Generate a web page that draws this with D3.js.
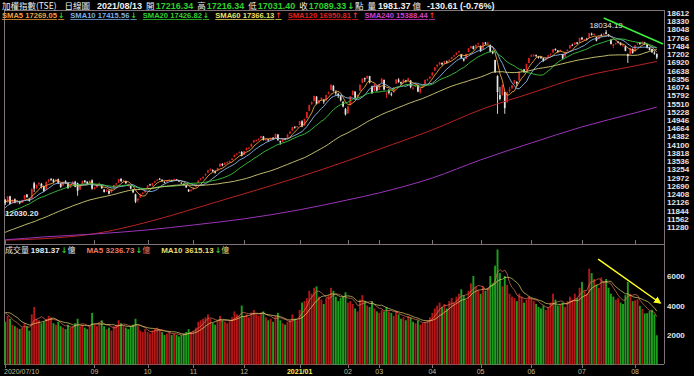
<!DOCTYPE html>
<html>
<head>
<meta charset="utf-8">
<script src="https://cdn.jsdelivr.net/npm/d3@7"></script>
<style>
  body { margin: 0; background: #000; }
  svg { display: block; font-family: "Liberation Sans", Arial, sans-serif; }
</style>
</head>
<body>
<div id="chart"></div>
<script>
// 加權指數 daily candles, 2020/07/10 - 2021/08/13, [open, high, low, close]
const ohlc = [
  // 2020/07
  [12210,12240,12030.2,12100],[12130,12340,12110,12322],[12330,12350,12060,12074],[12120,12230,12090,12202],[12230,12260,12090,12112],[12140,12200,12080,12176],[12150,12180,12060,12094],[12110,12220,12100,12198],[12230,12380,12220,12367],[12390,12410,12280,12304],[12250,12280,12150,12170],[12250,12600,12240,12586],[12780,12830,12480,12600],[12620,12740,12580,12720],[12750,12820,12690,12780],[12760,12790,12600,12664],
  // 2020/08
  [12680,12700,12480,12513],[12560,12840,12550,12828],[12850,12920,12800,12894],[12920,12960,12860,12910],[12900,12930,12780,12828],[12850,12930,12820,12900],[12920,12940,12760,12780],[12760,12790,12620,12650],[12700,12840,12690,12830],[12850,12880,12760,12795],[12780,12800,12590,12610],[12640,12740,12620,12720],[12760,12850,12740,12830],[12830,12860,12640,12660],[12780,12800,12350,12520],[12560,12720,12550,12700],[12730,12870,12720,12850],[12870,12890,12790,12820],[12830,12850,12740,12760],[12790,12880,12780,12860],[12880,12910,12560,12591],
  // 2020/09
  [12600,12650,12560,12607],[12640,12740,12630,12728],[12760,12800,12700,12790],[12700,12710,12590,12608],[12560,12580,12460,12480],[12500,12570,12480,12550],[12520,12540,12400,12420],[12460,12600,12450,12590],[12620,12730,12610,12720],[12740,12790,12700,12767],[12800,12930,12790,12920],[12930,12950,12830,12850],[12860,12900,12820,12875],[12850,12870,12760,12780],[12700,12760,12660,12720],[12680,12700,12580,12600],[12560,12580,12440,12470],[12400,12420,12100,12150],[12200,12280,12120,12240],[12290,12420,12280,12400],[12430,12480,12400,12450],[12470,12530,12450,12515],
  // 2020/10
  [12600,12720,12590,12705],[12740,12760,12690,12720],[12700,12790,12680,12776],[12800,12860,12780,12850],[12880,12920,12860,12900],[12930,12960,12890,12920],[12900,12910,12830,12850],[12820,12850,12780,12810],[12830,12880,12820,12870],[12880,12920,12860,12900],[12890,12900,12840,12860],[12880,12940,12870,12920],[12910,12920,12860,12880],[12870,12880,12820,12840],[12800,12810,12760,12780],[12760,12770,12700,12720],[12700,12720,12620,12640],[12560,12580,12480,12500],[12520,12580,12490,12546],
  // 2020/11
  [12560,12640,12540,12620],[12660,12730,12650,12720],[12800,12880,12790,12870],[12900,12960,12880,12940],[12960,13010,12930,13000],[13060,13110,13020,13100],[13150,13240,13120,13220],[13230,13290,13200,13260],[13240,13250,13170,13190],[13200,13220,13110,13140],[13210,13310,13200,13300],[13350,13460,13340,13450],[13440,13470,13360,13390],[13420,13490,13400,13480],[13490,13530,13450,13500],[13510,13560,13480,13540],[13580,13640,13560,13620],[13680,13760,13670,13750],[13770,13810,13730,13800],[13820,13870,13800,13845],[13850,13880,13700,13722],
  // 2020/12
  [13760,13890,13750,13877],[13920,14000,13900,13990],[13990,14030,13950,13990],[14030,14140,14010,14132],[14180,14260,14160,14250],[14240,14280,14200,14260],[14270,14320,14240,14300],[14330,14400,14310,14390],[14380,14400,14240,14261],[14270,14310,14220,14300],[14290,14300,14200,14250],[14280,14350,14260,14330],[14340,14360,14280,14300],[14330,14480,14320,14470],[14450,14460,14230,14258],[14220,14240,14100,14180],[14200,14310,14190,14300],[14310,14330,14250,14280],[14300,14460,14290,14450],[14480,14560,14470,14550],[14580,14710,14570,14700],[14710,14740,14650,14690],[14700,14740,14680,14732],
  // 2021/01
  [14780,14910,14760,14902],[14900,14940,14700,14721],[14760,14990,14740,14983],[15020,15230,15000,15214],[15260,15470,15250,15463],[15500,15580,15460,15558],[15600,15780,15580,15769],[15750,15760,15480,15500],[15520,15630,15500,15616],[15660,15720,15600,15707],[15640,15650,15500,15570],[15620,15810,15600,15800],[15850,15920,15820,15900],[15980,16170,15960,16153],[16120,16140,15920,15946],[15900,15960,15780,15860],[15840,15880,15700,15781],[15760,15790,15580,15620],[15560,15600,15380,15410],[15320,15360,15100,15138],
  // 2021/02
  [15180,15420,15150,15410],[15460,15770,15450,15760],[15800,15960,15790,15946],[15920,15930,15680,15707],[15740,15820,15700,15802],[15950,16170,15940,16153],[16230,16370,16200,16362],[16380,16400,16250,16341],[16380,16470,16350,16452],[16450,16460,16200,16230],[16100,16120,15840,15870],[15950,16200,15940,16180],[16100,16120,15920,15953],
  // 2021/03
  [15980,16190,15970,16180],[16230,16380,16210,16367],[16320,16330,15960,15990],[15850,15900,15700,15850],[15950,16010,15820,15880],[15840,15900,15760,15820],[15900,16080,15880,16070],[16200,16340,16180,16334],[16330,16380,16220,16252],[16240,16260,16150,16200],[16220,16340,16200,16332],[16300,16320,16230,16270],[16310,16390,16280,16380],[16300,16310,16030,16070],[16040,16100,15980,16050],[16090,16210,16070,16200],[16150,16160,15900,15920],[15890,16040,15850,16030],[16080,16130,16040,16120],[16180,16330,16170,16320],[16330,16370,16280,16350],[16370,16440,16350,16431],
  // 2021/04
  [16470,16580,16460,16571],[16640,16760,16630,16750],[16780,16850,16740,16840],[16860,16930,16820,16920],[16900,16920,16820,16854],[16880,16970,16860,16960],[16950,16980,16880,16920],[16960,17020,16940,17010],[17040,17110,17020,17100],[17130,17180,17100,17160],[17190,17260,17170,17250],[17270,17320,17240,17300],[17200,17210,17060,17080],[17050,17060,16950,16980],[17040,17220,17030,17210],[17280,17410,17270,17400],[17420,17480,17390,17470],[17470,17490,17360,17380],[17420,17530,17410,17520],[17560,17600,17500,17566],
  // 2021/05
  [17480,17500,17280,17308],[17380,17610,17370,17600],[17600,17620,17520,17560],[17590,17630,17540,17593],[17520,17530,17260,17285],[17300,17330,17200,17235],[17000,17010,16560,16583],[16450,16480,15159,15902],[15800,16080,15620,15670],[15800,16160,15780,16150],[15900,15920,15160,15353],[15550,15920,15540,15900],[15940,16080,15880,16000],[16040,16150,16000,16130],[16200,16320,16180,16300],[16250,16280,16100,16200],[16300,16610,16290,16600],[16630,16700,16590,16645],[16680,16700,16560,16600],[16650,16880,16640,16870],[16900,17080,16890,17068],
  // 2021/06
  [17120,17200,17100,17162],[17150,17210,17110,17165],[17170,17190,17100,17147],[17120,17140,17050,17083],[17100,17130,17040,17076],[17060,17070,16940,16966],[17000,17090,16980,17080],[17110,17170,17090,17159],[17180,17230,17150,17213],[17260,17380,17250,17371],[17380,17400,17320,17346],[17330,17340,17250,17278],[17300,17360,17280,17345],[17200,17210,17020,17062],[17120,17260,17100,17248],[17300,17360,17290,17350],[17400,17510,17390,17502],[17520,17560,17480,17502],[17530,17610,17510,17598],[17600,17620,17540,17560],[17600,17770,17590,17755],
  // 2021/07
  [17760,17800,17690,17710],[17690,17730,17660,17710],[17730,17760,17680,17713],[17760,17930,17750,17919],[17900,17940,17840,17866],[17880,17920,17850,17895],[17780,17790,17640,17661],[17720,17830,17710,17814],[17860,17900,17820,17847],[17880,17920,17860,17901],[17950,18034.19,17880,17896],[17880,17890,17800,17825],[17700,17710,17530,17550],[17480,17560,17400,17532],[17560,17600,17520,17576],[17620,17650,17570,17600],[17590,17610,17500,17517.8],[17500,17560,17460,17502],[17470,17480,17300,17318],[17200,17220,16900,17135],[17200,17420,17190,17403],[17380,17400,17220,17247],
  // 2021/08
  [17300,17520,17290,17503.28],[17560,17600,17520,17583.07],[17600,17620,17520,17553.76],[17560,17640,17540,17623.9],[17600,17620,17520,17546.34],[17540,17560,17400,17420.5],[17420,17450,17330,17348.2],[17380,17390,17250,17267.28],[17260,17300,17180,17219.94],[17216.34,17216.34,17031.4,17089.33]
];

// 成交量 (億)
const volume = [
  2900,3300,3100,2700,2600,2500,2400,2500,2800,2600,2300,3400,3900,3100,3000,2800,
  2900,3100,3300,3200,2800,2700,2900,2600,2500,2400,2700,2500,2600,2800,3100,2600,2700,2500,2400,2600,3500,
  2700,2600,2800,3000,2600,2400,2500,2300,2600,2700,3000,2800,2600,2500,2400,2600,2700,3100,2600,2300,2200,2400,
  2200,2100,2300,2400,2500,2400,2200,2000,2100,2200,2000,2100,2000,1900,2000,2100,2200,2400,2200,
  2300,2500,2900,3000,3100,3200,3400,3100,2800,2700,3000,3300,3000,2900,2800,3000,3200,3600,3400,3300,4000,
  3300,3400,3200,3500,3700,3400,3300,3500,3600,3200,3000,3100,2900,3300,3500,3000,2800,2700,2900,3000,3400,3100,3000,
  3700,4200,4300,4500,5000,4800,5200,5300,4600,4400,4100,4500,4700,5200,5000,4600,4300,4500,4600,4900,
  4200,4300,4100,3800,3600,4400,4700,4300,4000,3900,4300,3800,3600,
  3500,3700,3600,3900,3600,3500,3300,3600,3400,3100,3200,3000,3300,3200,2900,2800,3000,2700,2800,2900,3000,3200,
  3500,3800,4000,4200,3900,4100,3800,4300,4500,4200,4600,4800,5100,4700,4400,5000,5500,6000,5300,5000,
  4800,5300,5000,5200,6000,5500,6700,7800,6200,5300,6000,5400,4800,4600,4500,4300,4800,4600,4200,4400,4600,
  4500,4300,4100,3900,3800,4000,3700,3900,4200,4800,4400,4000,4100,4200,3900,4300,4600,4400,4800,4500,5200,
  5600,5000,4800,6500,6200,5800,5400,5200,5900,5600,5800,5200,4800,4600,4400,4500,4200,4100,4700,5600,4800,4300,
  4350,4420,3980,3760,3457.65,3480,3620,3710,3392.28,1981.37
];

// closes and volumes before 2020/07/10, needed by the moving averages
const priorCloses = [
  10150,10170,10330,10400,10250,10300,10390,10420,10470,10570,10780,10992,
  10616,10640,10780,10720,10800,10840,10700,10760,10720,10620,10600,10820,10790,10880,10760,10720,10830,10860,10950,10942,
  11079,11130,11280,11380,11450,11500,11580,11650,11560,11430,11250,11480,11520,11470,11500,11550,11510,11590,11470,11621,
  11750,11900,11920,12116,12080,12150,12220
];
const priorVolume = [3200,3400,3600,3800,3500,4000,3800,3600,3300];

// long averages at the month starts
const longMaIdx = [0,16,37,59,78,99,122,142,155,177,197,218,239,261,270];
const sma120 = [10830,10880,11050,11450,11900,12420,13000,13553,13945,14607,15298,15871,16428,16800,16950.81];
const sma240 = [10840,10940,11040,11180,11350,11560,11870,12210,12450,12960,13580,14160,14710,15190,15388.44];

// axis labels
const monthIdx = [0,37,59,78,99,122,142,155,177,197,218,239,261];
const monthLabels = ["2020/07/10","09","10","11","12","2021/01","02","03","04","05","06","07","08"];
const priceTicks = [18612,18330,18048,17766,17484,17202,16920,16638,16356,16074,15792,15510,15228,14946,14664,14382,14100,13818,13536,13254,12972,12690,12408,12126,11844,11562,11280];
const volTicks = [6000,4000,2000];

// header and legends
const quoteDate = "2021/08/13";
const quoteLabels = ["開","高","低","收"];
const quoteValues = ["17216.34","17216.34","17031.40","17089.33"];
const quoteVolume = "1981.37";
const quoteChange = "-130.61 (-0.76%)";
const smaNames = ["SMA5","SMA10","SMA20","SMA60","SMA120","SMA240"];
const smaLast = ["17269.05","17415.56","17426.82","17366.13","16950.81","15388.44"];
const smaDir = ["↓","↓","↓","↑","↑","↑"];
const volNames = ["成交量","MA5","MA10"];
const volLast = ["1981.37","3236.73","3615.13"];

// hand drawn trend marks: [day index, value]
const priceTrend = [[248, 18441], [272.6, 17550]];
const volTrend = [[245.7, 7150], [271.4, 4170]];

// ---------- drawing ----------
const width = 694, height = 376;
const left = 4, right = 664, priceTop = 10, priceBottom = 244, volBottom = 364;
const upColor = "#e02424", downColor = "#e6e6e6";
const smaColors = ["#f0a040", "#8ab8e8", "#3cc83c", "#d8d27a", "#b82222", "#9a34b8"];
const smaLegendColors = ["#f0a040", "#7ab0e8", "#30d030", "#f0e060", "#e02020", "#d040d0"];
const volMaColors = ["#e87a60", "#e8dc70"];
const frame = "#7d7378";
const cjk = '"Noto Sans CJK TC", "Liberation Sans", sans-serif';

const svg = d3.select("#chart").append("svg")
    .attr("width", width)
    .attr("height", height);

svg.append("rect").attr("width", width).attr("height", height).attr("fill", "#000");

const x = d3.scaleBand().domain(d3.range(ohlc.length)).range([left, 658]);
const cx = i => x(i) + x.bandwidth() / 2;
const y = d3.scaleLinear().domain([11280, 18612]).range([227, 13]);
const yv = d3.scaleLinear().domain([0, 6000]).range([364.5, 276]);

// frames
svg.append("path")
    .attr("d", `M${left},${priceTop}H${right}M${left},${priceBottom}H${right}M${left},${volBottom}H${right}M${left},${priceTop}V${volBottom}M${right},${priceTop}V${volBottom}`)
    .attr("stroke", frame).attr("fill", "none").attr("shape-rendering", "crispEdges");

// month ticks
svg.append("g").selectAll("path").data(monthIdx).join("path")
    .attr("d", i => `M${Math.round(cx(i)) + 0.5},${priceBottom - 4}V${priceBottom}M${Math.round(cx(i)) + 0.5},${volBottom}V${volBottom + 4}`)
    .attr("stroke", frame);

svg.append("g").selectAll("text").data(monthIdx).join("text")
    .attr("x", (i, k) => k === 0 ? left : cx(i))
    .attr("y", 374)
    .attr("text-anchor", (i, k) => k === 0 ? "start" : "middle")
    .attr("font-size", 7)
    .attr("font-weight", (i, k) => monthLabels[k] === "2021/01" ? "bold" : "normal")
    .attr("fill", (i, k) => monthLabels[k] === "2021/01" ? "#f4f060" : "#c4bc94")
    .text((i, k) => monthLabels[k]);

// right axis labels
svg.append("g").selectAll("text").data(priceTicks).join("text")
    .attr("x", right + 3).attr("y", d => y(d) + 3)
    .attr("font-size", 8).attr("font-weight", "bold").attr("fill", "#e4e4e4")
    .text(d => d);

svg.append("g").selectAll("text").data(volTicks).join("text")
    .attr("x", right + 3).attr("y", d => yv(d) + 3)
    .attr("font-size", 8).attr("font-weight", "bold").attr("fill", "#e4e4e4")
    .text(d => d);

// candles
const isUp = d => d[3] >= d[0];
const gCandle = svg.append("g");
gCandle.selectAll("line").data(ohlc).join("line")
    .attr("x1", (d, i) => cx(i)).attr("x2", (d, i) => cx(i))
    .attr("y1", d => y(d[1])).attr("y2", d => y(d[2]))
    .attr("stroke", d => isUp(d) ? upColor : downColor)
    .attr("stroke-width", 0.9);
gCandle.selectAll("rect").data(ohlc).join("rect")
    .attr("x", (d, i) => cx(i) - 0.85).attr("width", 1.7)
    .attr("y", d => y(Math.max(d[0], d[3])))
    .attr("height", d => Math.max(0.8, Math.abs(y(d[0]) - y(d[3]))))
    .attr("fill", d => isUp(d) ? upColor : downColor);

// moving averages
const closes = priorCloses.concat(ohlc.map(d => d[3]));
const rolling = (arr, n, offset) => ohlc.map((d, i) => d3.mean(arr.slice(offset + i - n + 1, offset + i + 1)));
const shortMa = [5, 10, 20, 60].map(n => rolling(closes, n, priorCloses.length));

const line = d3.line().x((d, i) => cx(i)).y(d => y(d));
shortMa.forEach((s, k) => {
    svg.append("path").datum(s)
        .attr("d", line)
        .attr("fill", "none").attr("stroke", smaColors[k]).attr("stroke-width", 0.9);
});

const longLine = d3.line().x(d => cx(d[0])).y(d => y(d[1])).curve(d3.curveMonotoneX);
[sma120, sma240].forEach((s, k) => {
    svg.append("path").datum(longMaIdx.map((idx, j) => [idx, s[j]]))
        .attr("d", longLine)
        .attr("fill", "none").attr("stroke", smaColors[4 + k]).attr("stroke-width", 1);
});

// high / low marks
const hiI = d3.maxIndex(ohlc, d => d[1]);
const loI = d3.minIndex(ohlc, d => d[2]);
svg.append("text")
    .attr("x", cx(hiI)).attr("y", y(ohlc[hiI][1]) - 2)
    .attr("text-anchor", "middle").attr("font-size", 8).attr("fill", "#e8e8e8")
    .text(ohlc[hiI][1].toFixed(2));
svg.append("text")
    .attr("x", x(loI) + 1).attr("y", y(ohlc[loI][2]) + 11)
    .attr("font-size", 8).attr("font-weight", "bold").attr("fill", "#e8e8e8")
    .text(ohlc[loI][2].toFixed(2));

// volume bars
const vols = priorVolume.concat(volume);
svg.append("g").selectAll("rect").data(volume).join("rect")
    .attr("x", (d, i) => cx(i) - 0.95).attr("width", 1.9)
    .attr("y", d => yv(d)).attr("height", d => yv(0) - yv(d))
    .attr("fill", (d, i) => {
        const prev = i === 0 ? priorCloses[priorCloses.length - 1] : ohlc[i - 1][3];
        return ohlc[i][3] >= prev ? "#b41818" : "#1e9e1e";
    });

const vline = d3.line().x((d, i) => cx(i)).y(d => yv(d));
[5, 10].forEach((n, k) => {
    svg.append("path").datum(rolling(vols, n, priorVolume.length))
        .attr("d", vline)
        .attr("fill", "none").attr("stroke", volMaColors[k]).attr("stroke-width", 0.8).attr("opacity", 0.85);
});

// trend marks
svg.append("defs").append("marker")
    .attr("id", "arrow").attr("viewBox", "0 0 10 10").attr("refX", 8).attr("refY", 5)
    .attr("markerWidth", 5).attr("markerHeight", 5).attr("orient", "auto")
    .append("path").attr("d", "M0,0L10,5L0,10z").attr("fill", "#ffff20");

svg.append("line")
    .attr("x1", cx(0) + x.step() * priceTrend[0][0]).attr("y1", y(priceTrend[0][1]))
    .attr("x2", cx(0) + x.step() * priceTrend[1][0]).attr("y2", y(priceTrend[1][1]))
    .attr("stroke", "#3cf03c").attr("stroke-width", 1.5);

svg.append("line")
    .attr("x1", cx(0) + x.step() * volTrend[0][0]).attr("y1", yv(volTrend[0][1]))
    .attr("x2", cx(0) + x.step() * volTrend[1][0]).attr("y2", yv(volTrend[1][1]))
    .attr("stroke", "#ffff20").attr("stroke-width", 1.5)
    .attr("marker-end", "url(#arrow)");

// header line
const head = svg.append("text").attr("x", 2).attr("y", 8.5).attr("font-size", 9).attr("fill", "#f0f0f0");
head.append("tspan").attr("font-family", cjk).attr("font-size", 8.5).text("加權指數(TSE)");
head.append("tspan").attr("dx", 8).attr("font-family", cjk).attr("font-size", 8.5).text("日線圖");
head.append("tspan").attr("dx", 7).attr("font-weight", "bold").text(quoteDate);
quoteLabels.forEach((lab, k) => {
    head.append("tspan").attr("dx", 4).attr("font-family", cjk).attr("font-size", 8.5).text(lab);
    head.append("tspan").attr("dx", 1).attr("font-weight", "bold").attr("fill", "#2fd02f").text(quoteValues[k]);
});
head.append("tspan").attr("dx", 1).attr("font-weight", "bold").attr("fill", "#2fd02f").attr("font-family", "DejaVu Sans").text("↓");
head.append("tspan").attr("font-family", cjk).attr("font-size", 8.5).text("點");
head.append("tspan").attr("dx", 4).attr("font-family", cjk).attr("font-size", 8.5).text("量");
head.append("tspan").attr("dx", 2).attr("font-weight", "bold").text(quoteVolume);
head.append("tspan").attr("dx", 2).attr("font-family", cjk).attr("font-size", 8.5).text("億");
head.append("tspan").attr("dx", 6).attr("font-weight", "bold").text(quoteChange);

// SMA legend
let lx = 2;
smaNames.forEach((name, k) => {
    const t = svg.append("text").attr("x", lx).attr("y", 18)
        .attr("font-size", 7.6).attr("font-weight", "bold").attr("fill", smaLegendColors[k])
        .attr("text-decoration", "underline");
    t.append("tspan").text(`${name} ${smaLast[k]}`);
    t.append("tspan").attr("dx", 1).attr("font-family", "DejaVu Sans")
        .attr("fill", smaDir[k] === "↓" ? "#2fd02f" : "#ff3030").text(smaDir[k]);
    lx += t.node().getComputedTextLength() + 7;
});

// volume legend
const volLegendColors = ["#e8e8e8", volMaColors[0], volMaColors[1]];
let vx = 5;
volNames.forEach((name, k) => {
    const t = svg.append("text").attr("x", vx).attr("y", 253)
        .attr("font-size", 8).attr("font-weight", "bold").attr("fill", volLegendColors[k]);
    t.append("tspan").attr("font-family", k === 0 ? cjk : null).attr("font-weight", k === 0 ? "normal" : "bold").text(name + " ");
    t.append("tspan").text(volLast[k]);
    t.append("tspan").attr("dx", 1).attr("font-family", "DejaVu Sans").attr("fill", "#2fd02f").text("↓");
    t.append("tspan").attr("font-family", cjk).attr("font-weight", "normal").text("億");
    vx += t.node().getComputedTextLength() + 12;
});
</script>
</body>
</html>
